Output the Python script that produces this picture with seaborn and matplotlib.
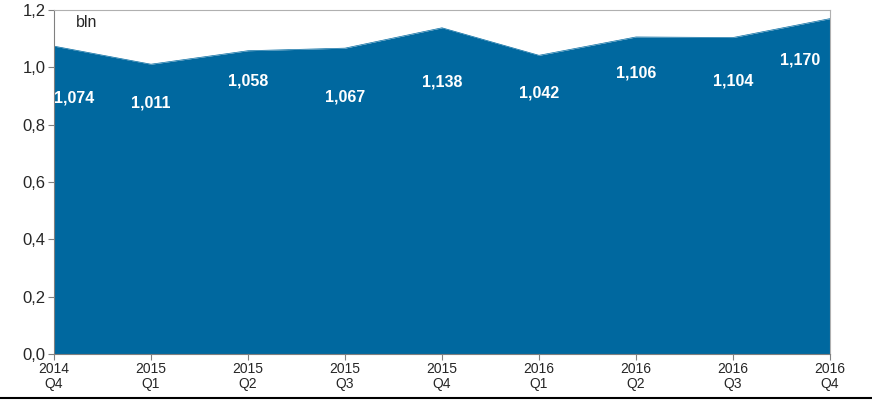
import pandas as pd
import matplotlib.pyplot as plt
import seaborn as sns
from matplotlib.lines import Line2D

quarters = ['2014\nQ4', '2015\nQ1', '2015\nQ2', '2015\nQ3', '2015\nQ4',
            '2016\nQ1', '2016\nQ2', '2016\nQ3', '2016\nQ4']
values = [1.074, 1.011, 1.058, 1.067, 1.138, 1.042, 1.106, 1.104, 1.170]
y_ticks = [0.0, 0.2, 0.4, 0.6, 0.8, 1.0, 1.2]

# how far below the edge each label sits (points)
label_offsets = [-37, -28, -22, -35, -39, -27, -26, -31, -30]

df = pd.DataFrame({'quarter': quarters, 'value': values})
df['pos'] = range(len(df))

sns.set_style('white')
plt.rcParams['font.family'] = ['Liberation Sans', 'DejaVu Sans']

fig = plt.figure(figsize=(8.72, 4.01), dpi=100)
ax = fig.add_axes([0.0619, 0.1172, 0.8899, 0.8578])

blue = '#00689f'
sns.lineplot(data=df, x='pos', y='value', color=blue, linewidth=0.5, ax=ax)
ax.fill_between(df['pos'], df['value'], color=blue, linewidth=0)

for i, (x, v) in enumerate(zip(df['pos'], df['value'])):
    ha = 'center'
    dx = 0
    if i == 0:
        ha, dx = 'left', 0
    elif i == len(df) - 1:
        ha, dx = 'right', -7
    ax.annotate(f'{v:.3f}'.replace('.', ','), (x, v), xytext=(dx, label_offsets[i]),
                textcoords='offset points', ha=ha, va='center',
                color='white', fontsize=11.5, fontweight='bold')

ax.set_xlim(0, len(df) - 1)
ax.set_ylim(0, 1.2)
ax.set_xticks(df['pos'])
ax.set_xticklabels(quarters, fontsize=10, linespacing=1.1)
ax.set_yticks(y_ticks)
ax.set_yticklabels([f'{t:.1f}'.replace('.', ',') for t in y_ticks], fontsize=12)
ax.set_xlabel('')
ax.set_ylabel('')
ax.tick_params(axis='both', direction='out', length=4, width=0.8, color='#808080',
               pad=2, bottom=True, left=True)

for side in ['top', 'right']:
    ax.spines[side].set_color('#b0b0b0')
    ax.spines[side].set_linewidth(0.8)
for side in ['left', 'bottom']:
    ax.spines[side].set_color('#808080')
    ax.spines[side].set_linewidth(0.8)

ax.text(0.028, 0.985, 'bln', transform=ax.transAxes, fontsize=11.5, va='top', ha='left')

fig.add_artist(Line2D([0, 1], [0.0075, 0.0075], transform=fig.transFigure,
                      color='black', linewidth=1.5))

fig.savefig('out.png', dpi=100)
